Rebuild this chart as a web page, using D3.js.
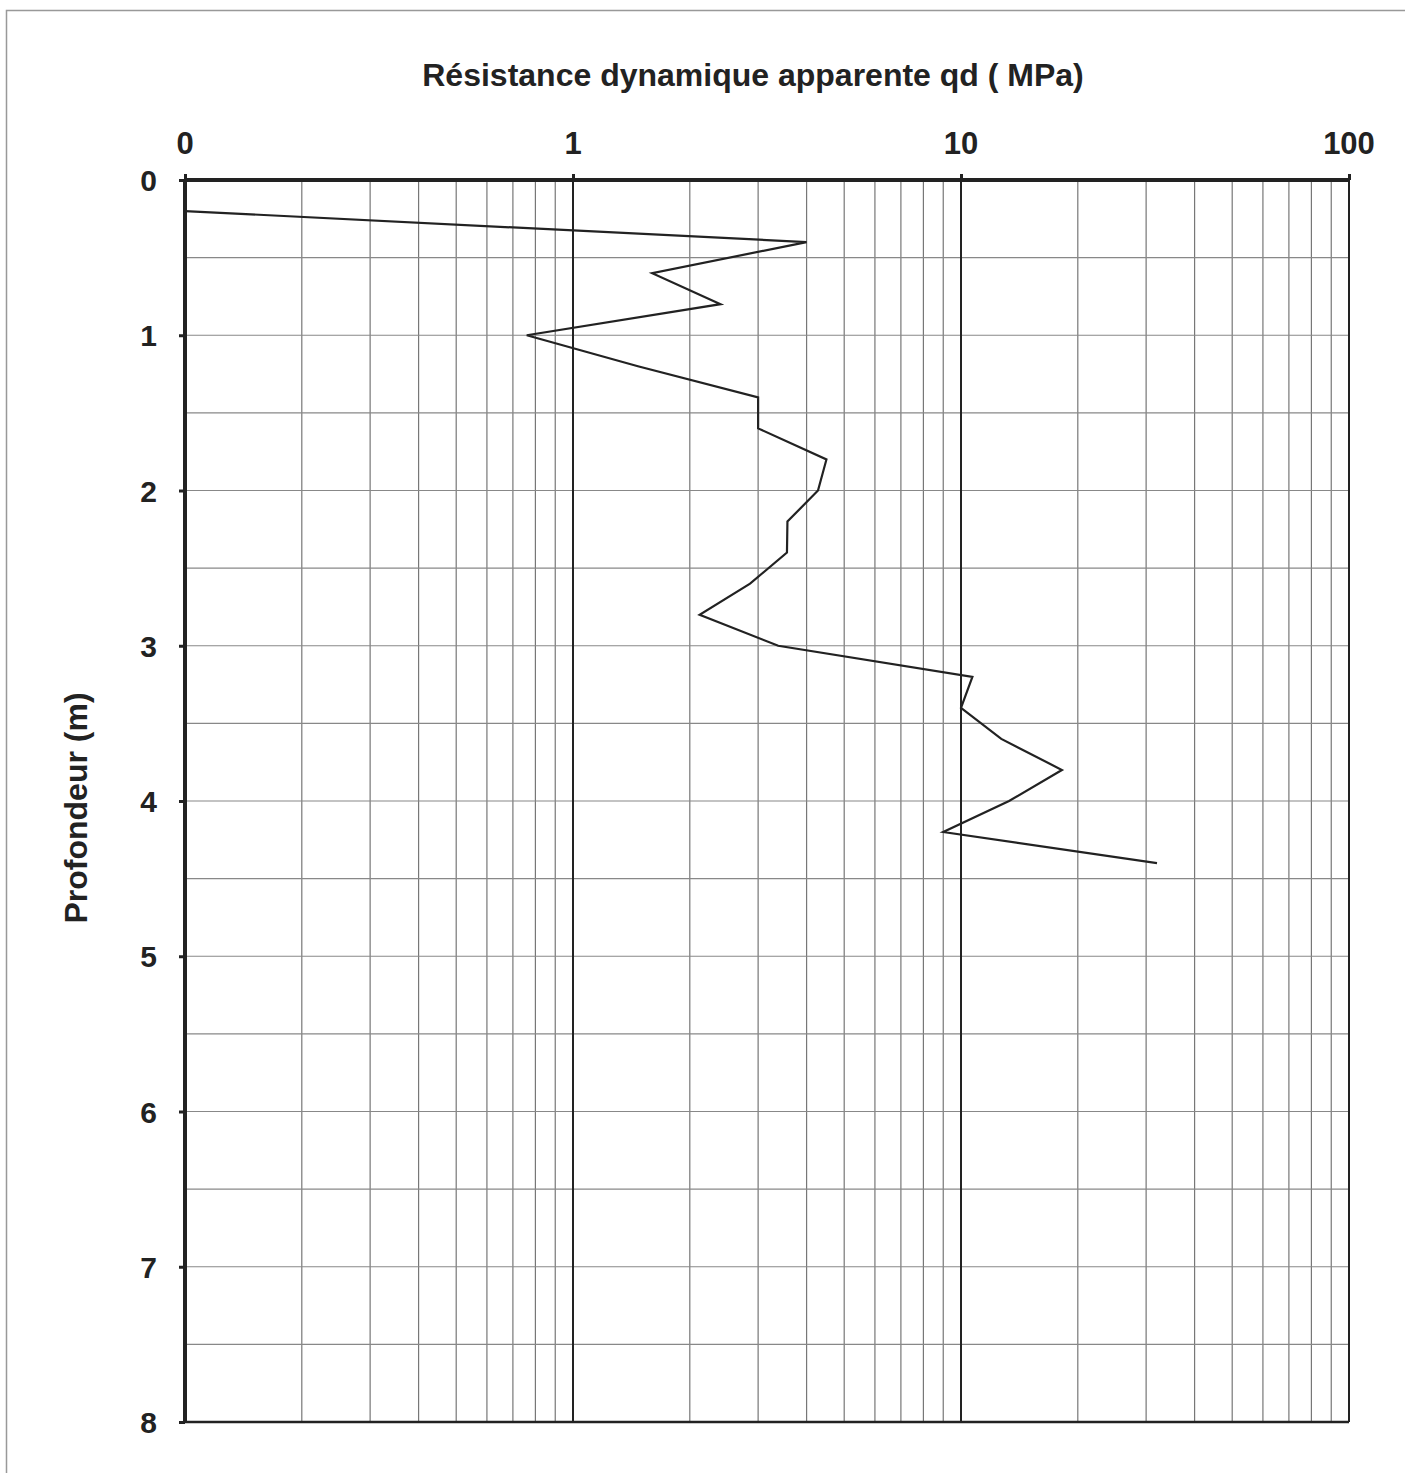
<!DOCTYPE html>
<html>
<head>
<meta charset="utf-8">
<script src="https://cdn.jsdelivr.net/npm/d3@7"></script>
<style>
  body { margin: 0; background: #fff; }
  text { font-family: "Liberation Sans", Arial, sans-serif; font-weight: bold; fill: #222; }
</style>
</head>
<body>
<script>
// profondeur (m) et résistance qd (MPa)
var depths = [0.2, 0.4, 0.6, 0.8, 1.0, 1.2, 1.4, 1.6, 1.8, 2.0, 2.2, 2.4, 2.6, 2.8, 3.0, 3.2, 3.4, 3.6, 3.8, 4.0, 4.2, 4.4];
var qd     = [0.1, 4.0, 1.6, 2.4, 0.76, 1.47, 3.0, 3.0, 4.5, 4.28, 3.57, 3.56, 2.86, 2.12, 3.38, 10.7, 10.0, 12.7, 18.2, 13.3, 9.0, 32];
var xTicks = [0.1, 1, 10, 100];
var xTickLabels = ["0", "1", "10", "100"];
var yTicks = [0, 1, 2, 3, 4, 5, 6, 7, 8];

var W = 1405, H = 1473;
var svg = d3.select("body").append("svg").attr("width", W).attr("height", H);

// cadre extérieur
svg.append("rect").attr("x", 6.5).attr("y", 10.5).attr("width", W - 4).attr("height", H)
   .attr("fill", "none").attr("stroke", "#999").attr("stroke-width", 1.5);

var pLeft = 185, pRight = 1349, pTop = 180, pBottom = 1422;
var x = d3.scaleLog().domain([0.1, 100]).range([pLeft, pRight]);
var y = d3.scaleLinear().domain([0, 8]).range([pTop, pBottom]);

// grille verticale (mineure)
var minor = [];
[0.1, 1, 10].forEach(function(d){
    for (var k = 2; k <= 9; k++) minor.push(d * k);
});
svg.append("g").selectAll("line").data(minor).enter().append("line")
   .attr("x1", function(d){ return x(d); }).attr("x2", function(d){ return x(d); })
   .attr("y1", pTop).attr("y2", pBottom)
   .attr("stroke", "#777").attr("stroke-width", 1.2);

// grille horizontale tous les 0.5 m
svg.append("g").selectAll("line").data(d3.range(0.5, 8, 0.5)).enter().append("line")
   .attr("x1", pLeft).attr("x2", pRight)
   .attr("y1", function(d){ return y(d); }).attr("y2", function(d){ return y(d); })
   .attr("stroke", "#888").attr("stroke-width", 1.2);

// lignes majeures
svg.append("g").selectAll("line").data([1, 10, 100]).enter().append("line")
   .attr("x1", function(d){ return x(d); }).attr("x2", function(d){ return x(d); })
   .attr("y1", pTop).attr("y2", pBottom)
   .attr("stroke", "#222").attr("stroke-width", 2);
svg.append("line").attr("x1", pLeft).attr("x2", pRight).attr("y1", y(8)).attr("y2", y(8))
   .attr("stroke", "#222").attr("stroke-width", 2.5);

// axes
var xAxis = d3.axisTop(x).tickValues(xTicks).tickSize(6).tickFormat("");
var gx = svg.append("g").attr("transform", "translate(0," + pTop + ")").call(xAxis);
gx.select(".domain").attr("stroke", "#222").attr("stroke-width", 4).attr("d", "M" + pLeft + ",0H" + pRight);
gx.selectAll(".tick line").attr("stroke", "#222").attr("stroke-width", 3);

var yAxis = d3.axisLeft(y).tickValues(yTicks).tickSize(6).tickFormat("");
var gy = svg.append("g").attr("transform", "translate(" + pLeft + ",0)").call(yAxis);
gy.select(".domain").attr("stroke", "#222").attr("stroke-width", 4).attr("d", "M0," + pTop + "V" + pBottom);
gy.selectAll(".tick line").attr("stroke", "#222").attr("stroke-width", 3);

// étiquettes
svg.append("g").selectAll("text").data(xTicks).enter().append("text")
   .attr("x", function(d){ return x(d); }).attr("y", 154)
   .attr("text-anchor", "middle").attr("font-size", 31)
   .text(function(d, i){ return xTickLabels[i]; });
svg.append("g").selectAll("text").data(yTicks).enter().append("text")
   .attr("x", 157).attr("y", function(d){ return y(d) + 11; })
   .attr("text-anchor", "end").attr("font-size", 30)
   .text(function(d){ return d; });

svg.append("text").attr("x", 753).attr("y", 86).attr("text-anchor", "middle").attr("font-size", 32)
   .text("Résistance dynamique apparente qd ( MPa)");
svg.append("text").attr("transform", "translate(87,808) rotate(-90)").attr("text-anchor", "middle")
   .attr("font-size", 32).text("Profondeur (m)");

// courbe pénétrométrique
var line = d3.line().x(function(d){ return x(d[1]); }).y(function(d){ return y(d[0]); });
svg.append("path").datum(d3.zip(depths, qd)).attr("d", line)
   .attr("fill", "none").attr("stroke", "#222").attr("stroke-width", 2.2).attr("stroke-linejoin", "miter");
</script>
</body>
</html>
